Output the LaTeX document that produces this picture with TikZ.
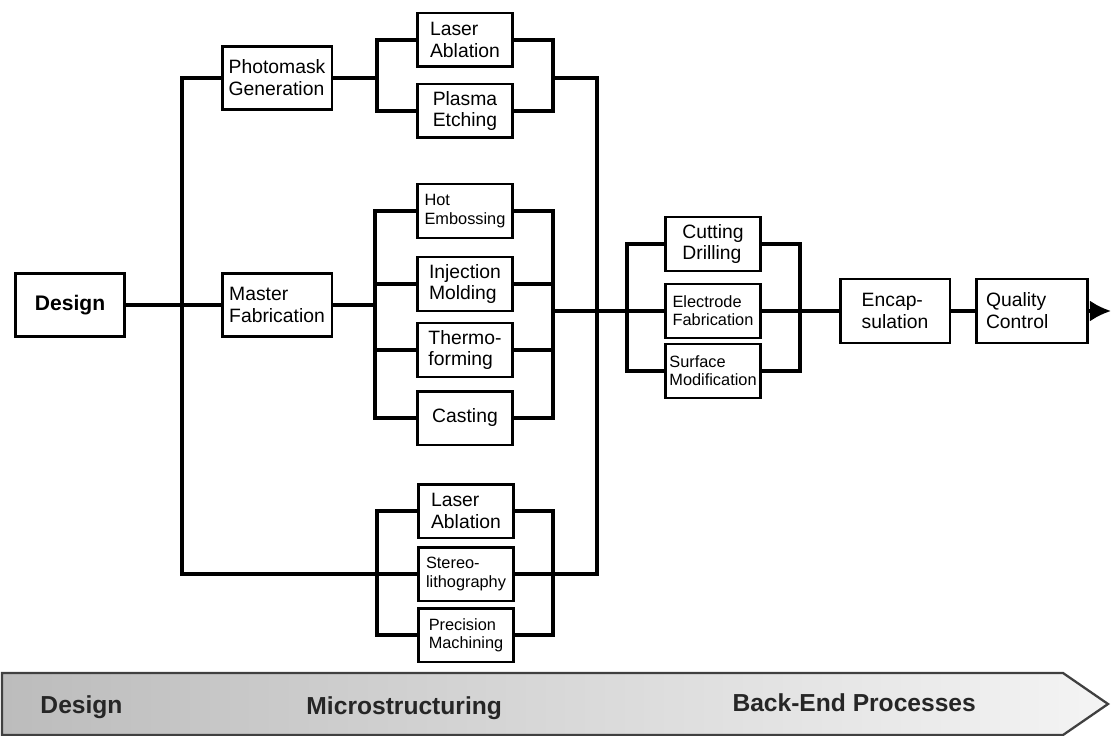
\documentclass[tikz,border=0pt]{standalone}
\usepackage{fontspec}
\setmainfont{Liberation Sans}
\usepackage{xcolor}
\definecolor{Band Dark}{HTML}{BCBCBC}
\definecolor{Band Light}{HTML}{F4F4F4}
\usetikzlibrary{calc, positioning, arrows.meta}
\tikzset{
	font = \fontsize{11}{12.5}\selectfont,
	box/.style={
		draw,
		rectangle,
		align=left,
		inner sep=2pt,
		minimum width=1.9cm,
		minimum height=1.08cm
	},
	big box/.style={
		box,
		minimum width=2.2cm,
		minimum height=1.25cm
	},
	small text/.style={
		font=\fontsize{9.3}{10.4}\selectfont
	},
	band text/.style={
		anchor=base west,
		inner sep=0pt,
		text=black!85,
		font=\fontsize{14}{16}\selectfont\bfseries
	},
	link/.style={
		line width=1.8pt,
		line cap=rect
	},
	edge/.style={
		link,
		line cap=butt,
		-{Latex[length=12pt, width=12pt]}
	}
}

\begin{document}
\begin{tikzpicture}[x=0.02cm, y=-0.02cm, line width=1.7pt]
	\useasboundingbox (0,0) rectangle (1111,736);

	% phase band
	\shade[left color=Band Dark, right color=Band Light, draw=black!75, line width=1.3pt]
		(2,673) -- (1063,673) -- (1108,704) -- (1063,735) -- (2,735) -- cycle;
	\node[band text] (phDesign) at (39,713) {Design};
	\node[band text] (phMicro) at (305,714) {Microstructuring};
	\node[band text] (phBack) at (731,711) {Back-End Processes};

	% boxes
	\node[big box, font=\fontsize{12}{14}\selectfont\bfseries] (design) at (70,305) {Design};
	\node[big box] (photo) at (277,78) {Photomask\\Generation};
	\node[big box] (master) at (277,305) {Master\\Fabrication};

	\node[box] (ablA) at (465,40) {Laser\\Ablation};
	\node[box] (plasma) at (465,111) {Plasma\\Etching};

	\node[box, small text] (hot) at (465,211) {Hot\\Embossing};
	\node[box] (inject) at (465,284) {Injection\\Molding};
	\node[box] (thermo) at (465,350) {Thermo-\\forming};
	\node[box] (cast) at (465,418) {Casting};

	\node[box] (ablB) at (466,511) {Laser\\Ablation};
	\node[box, small text] (stereo) at (466,574) {Stereo-\\lithography};
	\node[box, small text] (precis) at (466,635) {Precision\\Machining};

	\node[box] (cut) at (713,244) {Cutting\\Drilling};
	\node[box, small text] (electro) at (713,311) {Electrode\\Fabrication};
	\node[box, small text] (surface) at (713,371) {Surface\\Modification};

	\node[big box, minimum height=1.28cm] (encap) at (895,311) {Encap-\\sulation};
	\node[big box, minimum height=1.28cm, text width=1.84cm, inner xsep=0.19cm] (quality) at (1032,311) {Quality\\Control};

	% junctions
	\coordinate (stem) at (182,574);
	\coordinate (pmfork) at (377,78);
	\coordinate (pmjoin) at (553,78);
	\coordinate (rtop) at (597,78);
	\coordinate (rbot) at (597,574);
	\coordinate (mfork) at (375,305);
	\coordinate (mjoin) at (553,311);
	\coordinate (lfork) at (377,574);
	\coordinate (ljoin) at (553,574);
	\coordinate (bfork) at (627,311);
	\coordinate (bjoin) at (800,311);
	\coordinate (out) at (1111,311);

	% design to microstructuring
	\draw[link] (design) -- (master);
	\draw[link] (photo) -| (stem) -- (stereo.west);

	\draw[link] (photo) -- (pmfork);
	\draw[link] (ablA) -| (pmfork) |- (plasma);
	\draw[link] (ablA) -| (pmjoin) |- (plasma);
	\draw[link] (pmjoin) -- (rtop) -- (rbot) -- (stereo.east);

	\draw[link] (master) -- (mfork);
	\draw[link] (mfork) |- (hot);
	\draw[link] (mfork) |- (inject);
	\draw[link] (mfork) |- (thermo);
	\draw[link] (mfork) |- (cast);
	\draw[link] (hot) -| (mjoin);
	\draw[link] (inject) -| (mjoin);
	\draw[link] (thermo) -| (mjoin);
	\draw[link] (cast) -| (mjoin);

	\draw[link] (lfork) |- (ablB);
	\draw[link] (lfork) |- (precis);
	\draw[link] (ablB) -| (ljoin) |- (precis);

	% back-end
	\draw[link] (mjoin) -- (bfork) -- (electro.west);
	\draw[link] (bfork) |- (cut);
	\draw[link] (bfork) |- (surface);
	\draw[link] (cut) -| (bjoin);
	\draw[link] (surface) -| (bjoin);
	\draw[link] (electro.east) -- (bjoin) -- (encap.west);
	\draw[link] (encap) -- (quality);
	\draw[edge] (quality) -- (out);
\end{tikzpicture}
\end{document}
